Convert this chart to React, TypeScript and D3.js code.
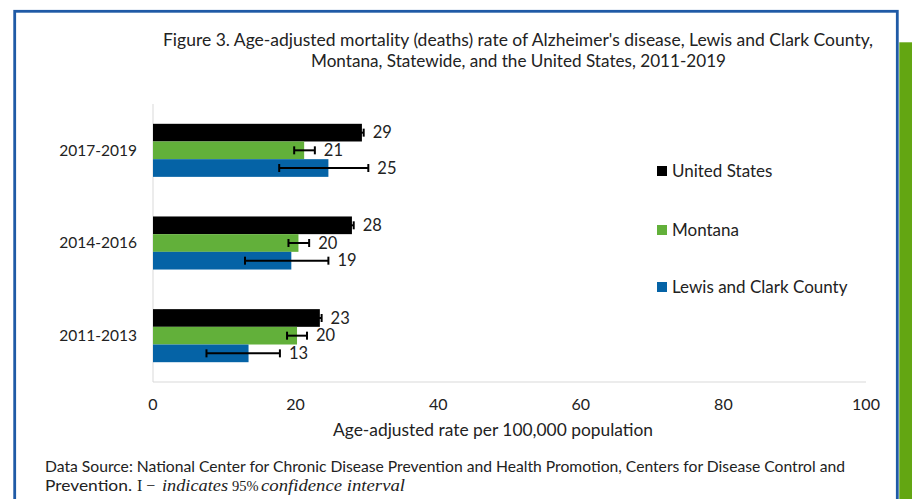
import React from "react";
import * as d3 from "d3";

const categories = ["2017-2019", "2014-2016", "2011-2013"];
const seriesNames = ["United States", "Montana", "Lewis and Clark County"];
const seriesColors = ["#000000", "#62b03a", "#0563a6"];
// values per series, in category order
const usValues = [29.3, 27.9, 23.4];
const usLow = [29.05, 27.65, 23.15];
const usHigh = [29.55, 28.15, 23.65];
const mtValues = [21.2, 20.4, 20.2];
const mtLow = [19.8, 19.0, 18.8];
const mtHigh = [22.7, 21.9, 21.6];
const lcValues = [24.6, 19.4, 13.4];
const lcLow = [17.7, 12.9, 7.5];
const lcHigh = [30.2, 24.6, 17.8];
const xTicks = [0, 20, 40, 60, 80, 100];

const titleLines = [
  "Figure 3. Age-adjusted mortality (deaths) rate of Alzheimer's disease, Lewis and Clark County,",
  "Montana, Statewide, and the United States, 2011-2019",
];
const xAxisTitle = "Age-adjusted rate per 100,000 population";
const footer1 =
  "Data Source: National Center for Chronic Disease Prevention and Health Promotion, Centers for Disease Control and";

const series = [
  { name: seriesNames[0], color: seriesColors[0], v: usValues, lo: usLow, hi: usHigh },
  { name: seriesNames[1], color: seriesColors[1], v: mtValues, lo: mtLow, hi: mtHigh },
  { name: seriesNames[2], color: seriesColors[2], v: lcValues, lo: lcLow, hi: lcHigh },
];

const FONT = "Lato, 'Open Sans', sans-serif";
const SERIF = "'Liberation Serif', 'DejaVu Serif', serif";
const TXT = "#222";

export default function App() {
  const W = 912;
  const H = 499;
  const x = d3.scaleLinear().domain([0, 100]).range([153, 866]);
  const y0 = d3.scaleBand<string>().domain(categories).range([104, 382]).paddingInner(0).paddingOuter(0);
  const y1 = d3
    .scaleBand<string>()
    .domain(seriesNames)
    .range([0, y0.bandwidth()])
    .paddingInner(0)
    .paddingOuter(1.12);
  const bh = y1.bandwidth();

  return (
    <svg
      width={W}
      height={H}
      style={{ position: "absolute", left: 0, top: 0, background: "#fff" }}
    >
      <rect x={0} y={0} width={W} height={H} fill="#fff" />
      {/* green side strip */}
      <rect x={899.3} y={42.3} width={W - 899.3} height={H - 42.3} fill="#63a612" />
      {/* blue frame */}
      <rect x={14.7} y={11.3} width={897.3 - 14.7} height={H + 20} fill="none" stroke="#1f5aa6" strokeWidth={2.8} />

      {/* title */}
      <text x={163} y={46} fontFamily={FONT} fontSize={16.5} fill={TXT} textLength={710} lengthAdjust="spacingAndGlyphs">
        {titleLines[0]}
      </text>
      <text x={311} y={67} fontFamily={FONT} fontSize={16.5} fill={TXT} textLength={415} lengthAdjust="spacingAndGlyphs">
        {titleLines[1]}
      </text>

      {/* axes lines */}
      <line x1={x(0)} x2={x(0)} y1={104} y2={382} stroke="#d9d9d9" strokeWidth={1} />
      <line x1={x(0)} x2={x(100)} y1={382} y2={382} stroke="#d9d9d9" strokeWidth={1} />

      {/* x tick labels */}
      {xTicks.map((t) => (
        <text key={t} x={x(t)} y={410} textAnchor="middle" fontFamily={FONT} fontSize={16} fill={TXT}>
          {t}
        </text>
      ))}
      <text x={333} y={436} fontFamily={FONT} fontSize={17} fill={TXT} textLength={320} lengthAdjust="spacingAndGlyphs">
        {xAxisTitle}
      </text>

      {/* category labels */}
      {categories.map((c) => (
        <text
          key={c}
          x={137}
          y={(y0(c) as number) + y0.bandwidth() / 2}
          dy="0.35em"
          textAnchor="end"
          fontFamily={FONT}
          fontSize={15.5}
          fill={TXT}
        >
          {c}
        </text>
      ))}

      {/* bars */}
      {categories.map((c, ci) => (
        <g key={c} transform={`translate(0,${y0(c)})`}>
          {series.map((s) => {
            const yy = y1(s.name) as number;
            const cy = yy + bh / 2;
            const v = s.v[ci];
            const lo = s.lo[ci];
            const hi = s.hi[ci];
            return (
              <g key={s.name}>
                <rect x={x(0)} y={yy} width={x(v) - x(0)} height={bh} fill={s.color} />
                <line x1={x(lo)} x2={x(hi)} y1={cy} y2={cy} stroke="#000" strokeWidth={2} />
                <line x1={x(lo)} x2={x(lo)} y1={cy - 4} y2={cy + 4} stroke="#000" strokeWidth={2} />
                <line x1={x(hi)} x2={x(hi)} y1={cy - 4} y2={cy + 4} stroke="#000" strokeWidth={2} />
                <text
                  x={x(Math.max(v, hi)) + 9}
                  y={cy}
                  dy="0.35em"
                  fontFamily={FONT}
                  fontSize={16.5}
                  fill={TXT}
                >
                  {Math.round(v)}
                </text>
              </g>
            );
          })}
        </g>
      ))}

      {/* legend */}
      {series.map((s, i) => {
        const ly = [171, 230, 287][i];
        return (
          <g key={s.name}>
            <rect x={657} y={ly - 5} width={10} height={10} fill={s.color} />
            <text x={672} y={ly} dy="0.35em" fontFamily={FONT} fontSize={17} fill={TXT}>
              {s.name}
            </text>
          </g>
        );
      })}

      {/* footer */}
      <text x={45} y={472} fontFamily={FONT} fontSize={15} fill={TXT} textLength={800} lengthAdjust="spacingAndGlyphs">
        {footer1}
      </text>
      <text x={45} y={491} fontFamily={FONT} fontSize={15} fill={TXT} textLength={87} lengthAdjust="spacingAndGlyphs">
        Prevention.
      </text>
      <text x={137} y={491} fontFamily={SERIF} fontSize={16} fill={TXT}>
        I −
      </text>
      <text x={162} y={491} fontFamily={SERIF} fontSize={16} fontStyle="italic" fill={TXT} textLength={66} lengthAdjust="spacingAndGlyphs">
        indicates
      </text>
      <text x={232} y={491} fontFamily={SERIF} fontSize={14.5} fill={TXT}>
        95%
      </text>
      <text x={261} y={491} fontFamily={SERIF} fontSize={16} fontStyle="italic" fill={TXT} textLength={144} lengthAdjust="spacingAndGlyphs">
        confidence interval
      </text>
    </svg>
  );
}
